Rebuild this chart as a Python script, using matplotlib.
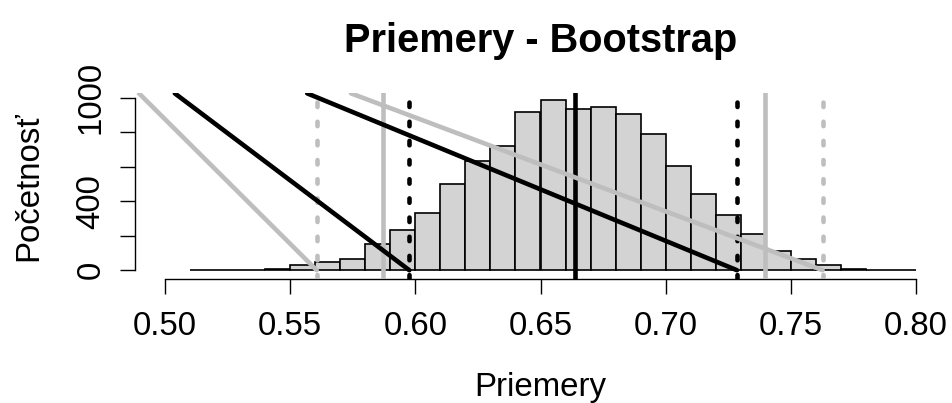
import numpy as np
import matplotlib
matplotlib.use("Agg")
import matplotlib.pyplot as plt

plt.rcParams['font.family'] = ['Liberation Sans', 'DejaVu Sans']
plt.rcParams['lines.scale_dashes'] = False

# ---- data ----
bin_left = [0.51, 0.52, 0.53, 0.54, 0.55, 0.56, 0.57, 0.58, 0.59, 0.60,
            0.61, 0.62, 0.63, 0.64, 0.65, 0.66, 0.67, 0.68, 0.69, 0.70,
            0.71, 0.72, 0.73, 0.74, 0.75, 0.76, 0.77, 0.78, 0.79]
counts = [2, 2, 3, 9, 29, 45, 65, 151, 234, 333,
          501, 635, 720, 918, 986, 937, 947, 903, 787, 605,
          444, 322, 208, 112, 66, 29, 8, 3, 1]
bin_width = 0.01

mean_val = 0.6637
q_dotted_black = [0.5976, 0.7285]
q_solid_gray = [0.5869, 0.7395]
q_dashed_gray = [0.5608, 0.7627]

diag_x_bottom = [0.5606, 0.5976, 0.7285, 0.7627]
diag_x_top = [0.4896, 0.5039, 0.5568, 0.5743]
diag_y = [0, 1025]
diag_colors = ['#BEBEBE', 'black', 'black', '#BEBEBE']

xticks = [0.50, 0.55, 0.60, 0.65, 0.70, 0.75, 0.80]
xticklabels = ['0.50', '0.55', '0.60', '0.65', '0.70', '0.75', '0.80']
yticks = [0, 200, 400, 600, 800, 1000]
yticklabels = ['0', '', '400', '', '', '1000']

title = 'Priemery - Bootstrap'
xlabel = 'Priemery'
ylabel = 'Početnosť'

# ---- figure ----
W, H = 953, 403
fig = plt.figure(figsize=(W / 100, H / 100), dpi=100)
ax_left, ax_right, ax_top, ax_bottom = 135, 946, 93.3, 278.5
ax = fig.add_axes([ax_left / W, 1 - ax_bottom / H,
                   (ax_right - ax_left) / W, (ax_bottom - ax_top) / H])
ax.set_xlim(0.488, 0.812)
ax.set_ylim(-48, 1025.4)

ax.bar(bin_left, counts, width=bin_width, align='edge',
       color='#D3D3D3', edgecolor='black', linewidth=1.2, zorder=2)

lw = 3.3
dash = (3.2, 10.6)
ax.axvline(mean_val, color='black', lw=lw, zorder=3)
for xv in q_dotted_black:
    ax.axvline(xv, color='black', lw=lw, dashes=dash,
               dash_capstyle='round', zorder=3)
for xv in q_solid_gray:
    ax.axvline(xv, color='#BEBEBE', lw=lw, zorder=3)
for xv in q_dashed_gray:
    ax.axvline(xv, color='#BEBEBE', lw=lw, dashes=dash,
               dash_capstyle='round', zorder=3)
for xb, xt, c in zip(diag_x_bottom, diag_x_top, diag_colors):
    ax.plot([xb, xt], diag_y, color=c, lw=lw, solid_capstyle='round', zorder=4)

for s in ['top', 'right']:
    ax.spines[s].set_visible(False)
ax.spines['left'].set_bounds(0, 1000)
ax.spines['bottom'].set_bounds(0.50, 0.80)
for s in ['left', 'bottom']:
    ax.spines[s].set_linewidth(1.0)

fs = 23.8
ax.set_xticks(xticks)
ax.set_xticklabels(xticklabels, fontsize=fs)
ax.set_yticks(yticks)
ax.set_yticklabels(yticklabels, fontsize=fs, rotation=90, va='center', ha='right')
ax.tick_params(axis='x', length=10.5, width=1.0, pad=13)
ax.tick_params(axis='y', length=10.5, width=1.0, pad=10)

fig.text(540.5 / W, 1 - 52 / H, title, ha='center', va='baseline',
         fontsize=28.6, fontweight='bold')
fig.text(540.5 / W, 1 - 396 / H, xlabel, ha='center', va='baseline', fontsize=fs)
fig.text(29 / W, 1 - 186 / H, ylabel, ha='center', va='center', rotation=90,
         fontsize=fs)

fig.savefig('out.png', dpi=100)
